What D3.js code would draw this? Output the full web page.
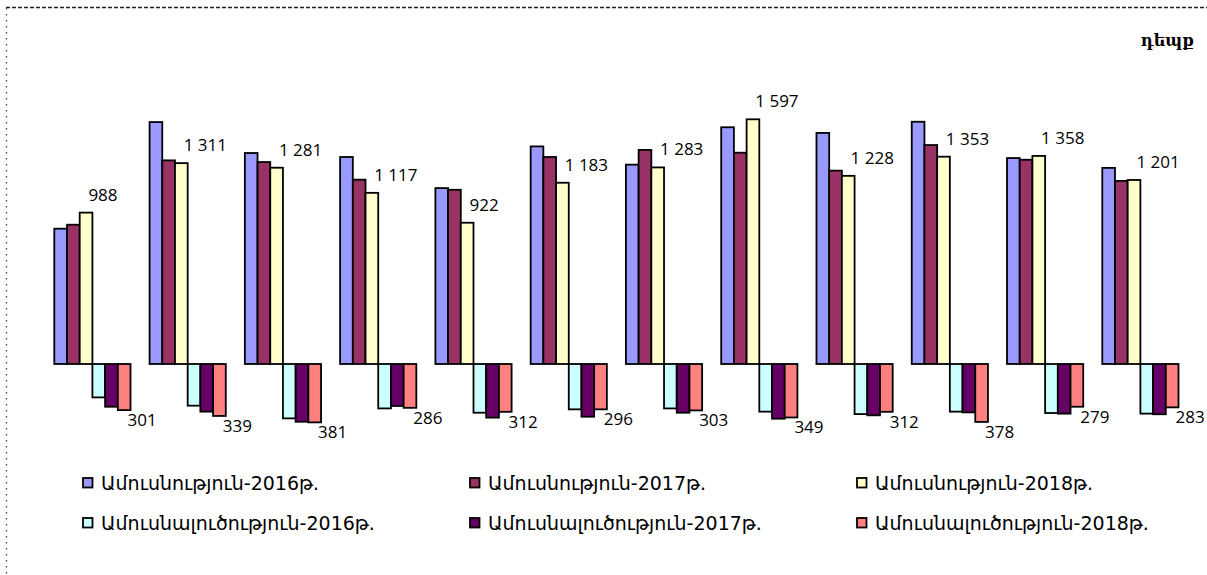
<!DOCTYPE html>
<html>
<head>
<meta charset="utf-8">
<script src="https://cdn.jsdelivr.net/npm/d3@7"></script>
<style>
  body { margin: 0; background: #fff; }
  svg { display: block; }
</style>
</head>
<body>
<svg id="chart" width="1207" height="575"></svg>
<script>
// months (not drawn on the chart, just the groups)
var categories = ["Հունվար", "Փետրվար", "Մարտ", "Ապրիլ", "Մայիս", "Հունիս",
                  "Հուլիս", "Օգոստոս", "Սեպտեմբեր", "Հոկտեմբեր", "Նոյեմբեր", "Դեկտեմբեր"];

var seriesNames = ["Ամուսնություն-2016թ.", "Ամուսնություն-2017թ.", "Ամուսնություն-2018թ.",
                   "Ամուսնալուծություն-2016թ.", "Ամուսնալուծություն-2017թ.", "Ամուսնալուծություն-2018թ."];

var seriesColors = ["#9999ff", "#993366", "#ffffcc", "#ccffff", "#660066", "#ff8080"];

// marriages (up) and divorces (down)
var marriages2016 = [883, 1579, 1377, 1351, 1148, 1420, 1301, 1545, 1508, 1581, 1344, 1280];
var marriages2017 = [909, 1329, 1318, 1203, 1137, 1351, 1397, 1379, 1262, 1429, 1333, 1195];
var marriages2018 = [988, 1311, 1281, 1117, 922, 1183, 1283, 1597, 1228, 1353, 1358, 1201];
var divorces2016  = [218, 272, 355, 290, 318, 296, 290, 311, 327, 311, 320, 324];
var divorces2017  = [279, 311, 377, 274, 350, 344, 318, 357, 335, 316, 324, 328];
var divorces2018  = [301, 339, 381, 286, 312, 296, 303, 349, 312, 378, 279, 283];

var unitLabel = "դեպք";

var seriesValues = [marriages2016, marriages2017, marriages2018,
                    divorces2016.map(function(d){ return -d; }),
                    divorces2017.map(function(d){ return -d; }),
                    divorces2018.map(function(d){ return -d; })];

var fmt = d3.formatLocale({ decimal: ",", thousands: " ", grouping: [3], currency: ["", ""] }).format(",");

var svg = d3.select("#chart");

// chart area border (dashed top, dotted left)
svg.append("line")
    .attr("x1", 6).attr("x2", 1207).attr("y1", 7.5).attr("y2", 7.5)
    .attr("stroke", "#222").attr("stroke-width", 1.3)
    .attr("stroke-dasharray", "4,2");
svg.append("line")
    .attr("x1", 6.5).attr("x2", 6.5).attr("y1", 8).attr("y2", 575)
    .attr("stroke", "#444").attr("stroke-width", 1.3)
    .attr("stroke-dasharray", "1.5,4.5");

// unit
svg.append("text")
    .attr("x", 1194)
    .attr("y", 46)
    .attr("text-anchor", "end")
    .attr("font-family", "DejaVu Serif")
    .attr("font-weight", "bold")
    .attr("font-size", "16px")
    .text(unitLabel);

// X Scale (groups)
var x0 = d3.scaleBand()
    .domain(categories)
    .range([54.3, 1178.5])
    .paddingInner(0.2)
    .paddingOuter(0);

// X Scale (series inside group)
var x1 = d3.scaleBand()
    .domain(d3.range(seriesNames.length))
    .range([0, x0.bandwidth()]);

// Y Scale
var y = d3.scaleLinear()
    .domain([-500, 1800])
    .range([440.6, 88.2]);

// Bars
var groups = svg.selectAll("g.month")
    .data(categories)
    .enter()
    .append("g")
        .attr("class", "month")
        .attr("transform", function(d){ return "translate(" + x0(d) + ",0)"; });

groups.selectAll("rect")
    .data(function(d, i){
        return seriesValues.map(function(s, k){ return { k: k, v: s[i] }; });
    })
    .enter()
    .append("rect")
        .attr("x", function(d){ return x1(d.k); })
        .attr("y", function(d){ return Math.min(y(d.v), y(0)); })
        .attr("width", x1.bandwidth())
        .attr("height", function(d){ return Math.abs(y(d.v) - y(0)); })
        .attr("fill", function(d){ return seriesColors[d.k]; })
        .attr("stroke", "#000")
        .attr("stroke-width", 1.8);

// value labels for 2018
groups.append("text")
    .attr("x", x1(2) + x1.bandwidth() - 4)
    .attr("y", function(d, i){ return y(marriages2018[i]) - 18; })
    .attr("dy", "0.35em")
    .attr("font-family", "Open Sans")
    .attr("font-size", "17px")
    .attr("fill", "#000")
    .text(function(d, i){ return fmt(marriages2018[i]); });

groups.append("text")
    .attr("x", x1(5) + x1.bandwidth() - 3)
    .attr("y", function(d, i){ return y(-divorces2018[i]) + 10; })
    .attr("dy", "0.35em")
    .attr("font-family", "Open Sans")
    .attr("font-size", "17px")
    .attr("fill", "#000")
    .text(function(d, i){ return fmt(divorces2018[i]); });

// Legend
var legend = svg.selectAll("g.legend")
    .data(seriesNames)
    .enter()
    .append("g")
        .attr("class", "legend")
        .attr("transform", function(d, i){
            var col = i % 3, row = Math.floor(i / 3);
            return "translate(" + (83 + col * 387) + "," + (483 + row * 40) + ")";
        });

legend.append("rect")
    .attr("x", 0)
    .attr("y", -5)
    .attr("width", 9.5)
    .attr("height", 9.5)
    .attr("fill", function(d, i){ return seriesColors[i]; })
    .attr("stroke", "#000")
    .attr("stroke-width", 1.8);

legend.append("text")
    .attr("x", 18)
    .attr("y", 0)
    .attr("dy", "0.35em")
    .attr("font-family", "DejaVu Sans")
    .attr("font-size", "19px")
    .attr("fill", "#000")
    .text(function(d){ return d; });
</script>
</body>
</html>
